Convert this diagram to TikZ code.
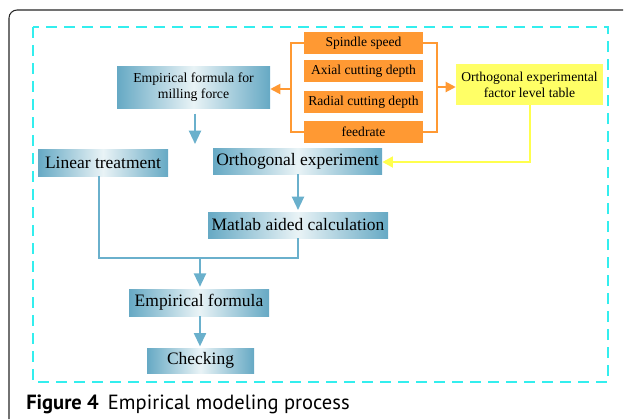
\documentclass[tikz,border=0pt]{standalone}
\usepackage{fontspec}
\setmainfont{Liberation Serif}
\newfontfamily\capfont{PT Sans}
\usetikzlibrary{arrows.meta}

\definecolor{boxedge}{HTML}{66A9C4}
\definecolor{boxmid}{HTML}{E9F3F6}
\definecolor{flowblue}{HTML}{6AB0CC}
\definecolor{factor}{HTML}{FF9933}
\definecolor{tablefill}{HTML}{FFFF66}
\definecolor{tableline}{HTML}{FFFF4D}
\definecolor{frameline}{HTML}{33EEEE}

\tikzset{
  pxsize/.style 2 args={minimum width=#1*0.75pt, minimum height=#2*0.75pt, inner sep=0pt},
  stage/.style={left color=boxedge, right color=boxedge, middle color=boxmid,
    font=\fontsize{13.1pt}{15pt}\selectfont, align=center},
  smallstage/.style={stage, font=\fontsize{10.3pt}{12pt}\selectfont},
  factorbox/.style={fill=factor, font=\fontsize{10.2pt}{12pt}\selectfont},
  tablebox/.style={fill=tablefill, font=\fontsize{10.2pt}{12pt}\selectfont, align=center},
  flow/.style={draw=flowblue, line width=1.6pt},
  flowarrow/.style={flow, -{Triangle[width=9pt, length=10pt]}},
  factorline/.style={draw=factor, line width=1.5pt},
  factorarrow/.style={factorline, -{Triangle[width=7.5pt, length=7.5pt]}},
  tablearrow/.style={draw=tableline, line width=2.2pt, -{Triangle[width=8pt, length=8pt]}},
}

\begin{document}
\begin{tikzpicture}[x=0.75pt, y=-0.75pt]
\useasboundingbox (0,0) rectangle (627,419);

% outer frame (top and left edges)
\draw[line width=0.8pt, black!85] (9,419) -- (9,18) arc[start angle=180, end angle=90, radius=6pt] -- (623,10);

% dashed enclosure
\draw[frameline, line width=1.5pt, dash pattern=on 8.25pt off 5.25pt] (33,27) rectangle (608,382);

% stages
\node[stage, smallstage, pxsize={153}{42}] (efm) at (193.5,87) {Empirical formula for\\milling force};
\node[stage, pxsize={130}{27}] (lin) at (103,162.5) {Linear treatment};
\node[stage, pxsize={169}{26}] (orth) at (297.5,161) {Orthogonal experiment};
\node[stage, pxsize={180}{26}] (mat) at (298,225) {Matlab aided calculation};
\node[stage, pxsize={140}{27}] (emp) at (199,302.5) {Empirical formula};
\node[stage, pxsize={107}{25}] (chk) at (200.5,360.5) {Checking};

% cutting factors
\node[factorbox, pxsize={119}{22}] (spd) at (363.5,43) {Spindle speed};
\node[factorbox, pxsize={119}{22}] (axd) at (363.5,71) {Axial cutting depth};
\node[factorbox, pxsize={119}{22}] (rad) at (363.5,102) {Radial cutting depth};
\node[factorbox, pxsize={119}{22}] (fed) at (363.5,132) {feedrate};

% factor level table
\node[tablebox, pxsize={147}{41}] (tab) at (529.5,84.5) {Orthogonal experimental\\factor level table};

% brackets around the factors
\coordinate (bl) at (291,89);
\coordinate (br) at (437,87);
\draw[factorline] (spd.west) -| (bl) |- (fed.west);
\draw[factorline] (spd.east) -| (br) |- (fed.east);
\draw[factorarrow] (bl) -- (efm.east |- bl);
\draw[factorarrow] (br) -- (tab.west |- br);

% table feeds the orthogonal experiment
\coordinate (tbend) at (530,162);
\draw[tablearrow] (tab.south -| tbend) -- (tbend) -- (orth.east |- tbend);

% main flow
\coordinate (efmtip) at (195,144);
\draw[flowarrow] ([yshift=-4pt]efm.south -| efmtip) -- (efmtip);
\coordinate (orthtip) at (298,210);
\draw[flowarrow] (orth.south -| orthtip) -- (orthtip);
\coordinate (join) at (200,258);
\draw[flow] (lin.south -| 99,0) |- (join) -| (mat.south -| orthtip);
\draw[flowarrow] (join) -- ([yshift=1.5pt]emp.north -| join);
\draw[flowarrow] (emp.south -| join) -- ([yshift=1pt]chk.north -| join);

% caption
\node[anchor=base west, inner sep=0pt, font=\capfont\fontsize{15.4pt}{18pt}\selectfont] (cap) at (26,409)
  {\textbf{Figure 4}\hspace{0.45em}Empirical modeling process};
\end{tikzpicture}
\end{document}
